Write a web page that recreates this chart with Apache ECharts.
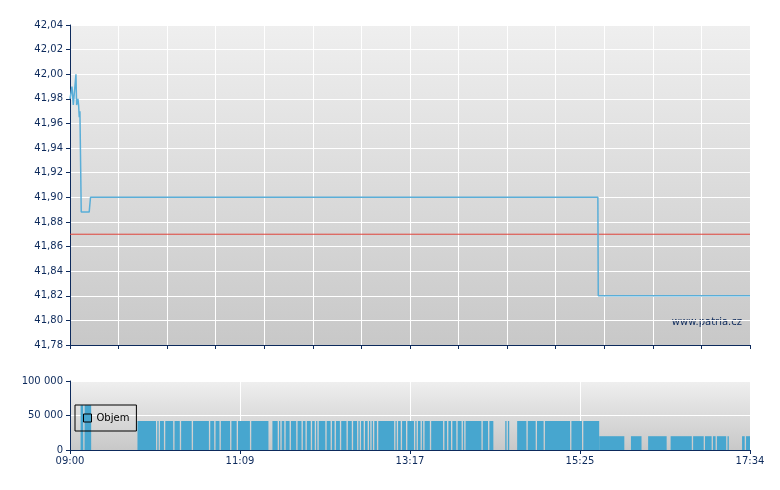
<!DOCTYPE html>
<html>
<head>
<meta charset="utf-8">
<script src="https://cdn.jsdelivr.net/npm/echarts@6/dist/echarts.min.js"></script>
<style>
  html, body { margin: 0; padding: 0; background: #fff; }
  #chart { width: 780px; height: 490px; }
</style>
</head>
<body>
<div id="chart"></div>
<script>
// minutes since 09:00 (session 09:00 - 17:34)
const sessionLength = 514;
const timeLabels = ['09:00', '11:09', '13:17', '15:25', '17:34'];

// price ticks: [minute, price]
const priceTimes = [0, 1.5, 2.5, 3.5, 4.5, 5, 5.5, 6, 6.5, 7, 7.5, 8.3, 8.5, 14.5, 15.5, 399, 399.3, 514];
const priceValues = [41.98, 41.99, 41.975, 41.975, 42.00, 41.975, 41.975, 41.98, 41.975, 41.965, 41.97, 41.97,
  41.888, 41.888, 41.90, 41.90, 41.82, 41.82];
const prevClose = 41.87;

// volume: trading blocks [firstMinute, lastMinute, volume] and minutes without trades inside them
const volBlocks = [
  [8, 15, 65000],
  [51, 319, 42000],
  [329, 329, 42000],
  [331, 331, 42000],
  [338, 399, 42000],
  [400, 418, 20000],
  [424, 431, 20000],
  [437, 450, 20000],
  [454, 495, 20000],
  [497, 497, 20000],
  [508, 513, 20000]
];
const volGaps = [10, 65, 67, 71, 78, 83, 92, 105, 109, 113, 121, 126, 136, 150, 151, 152, 157, 159, 162, 166,
  171, 175, 178, 182, 185, 187, 193, 197, 200, 204, 209, 213, 217, 219, 222, 225, 227, 229, 232, 245, 247,
  250, 254, 260, 262, 265, 267, 272, 282, 285, 288, 292, 296, 298, 311, 316, 345, 352, 358, 378, 387, 470,
  479, 485, 488, 510];

// per-minute volume, then merged into runs so neighbouring minutes draw as one bar
const volByMinute = new Array(sessionLength).fill(0);
volBlocks.forEach(([a, b, v]) => { for (let m = a; m <= b; m++) volByMinute[m] = v; });
volGaps.forEach(m => { volByMinute[m] = 0; });
const volRuns = [];
for (let m = 0; m < sessionLength; m++) {
  const v = volByMinute[m];
  if (!v) continue;
  const last = volRuns[volRuns.length - 1];
  if (last && last[1] === m && last[2] === v) last[1] = m + 1;
  else volRuns.push([m, m + 1, v]);
}

const priceData = priceTimes.map((t, i) => [t, priceValues[i]]);

const navy = '#0d2a5c';
const font = 'DejaVu Sans';
const bg = () => new echarts.graphic.LinearGradient(0, 0, 0, 1, [
  { offset: 0, color: '#efefef' },
  { offset: 1, color: '#c8c8c8' }
]);

const chart = echarts.init(document.getElementById('chart'));
chart.setOption({
  animation: false,
  backgroundColor: '#fff',
  textStyle: { fontFamily: font },
  grid: [
    { left: 70, top: 25, width: 680, height: 320, show: true, borderWidth: 0, backgroundColor: bg() },
    { left: 70, top: 381, width: 680, height: 69, show: true, borderWidth: 0, backgroundColor: bg() }
  ],
  legend: {
    data: ['Objem'],
    left: 75, top: 405,
    padding: [8, 7, 8, 8],
    borderColor: '#000', borderWidth: 1,
    icon: 'rect', itemWidth: 8, itemHeight: 8, itemGap: 5,
    itemStyle: { color: '#47a6cf', borderColor: '#000', borderWidth: 1 },
    textStyle: { fontFamily: font, fontSize: 10, color: '#000' },
    selectedMode: false
  },
  xAxis: [
    {
      gridIndex: 0, type: 'value', min: 0, max: sessionLength, interval: sessionLength / 14,
      axisLine: { lineStyle: { color: navy, width: 1 } },
      axisTick: { show: true, length: 4, lineStyle: { color: navy } },
      axisLabel: { show: false },
      splitLine: { show: true, lineStyle: { color: '#fff', width: 1 } }
    },
    {
      gridIndex: 1, type: 'value', min: 0, max: sessionLength, interval: sessionLength / 4,
      axisLine: { lineStyle: { color: navy, width: 1 } },
      axisTick: { show: true, length: 4, lineStyle: { color: navy } },
      axisLabel: {
        color: navy, fontSize: 10, fontFamily: font, margin: 6,
        formatter: v => timeLabels[Math.round(v / (sessionLength / 4))]
      },
      splitLine: { show: true, lineStyle: { color: '#fff', width: 1 } }
    }
  ],
  yAxis: [
    {
      gridIndex: 0, type: 'value', min: 41.78, max: 42.04, interval: 0.02,
      axisLine: { show: true, lineStyle: { color: navy, width: 1 } },
      axisTick: { show: true, length: 4, lineStyle: { color: navy } },
      axisLabel: { color: navy, fontSize: 10, fontFamily: font, margin: 7,
        formatter: v => v.toFixed(2).replace('.', ',') },
      splitLine: { show: true, lineStyle: { color: '#fff', width: 1 } }
    },
    {
      gridIndex: 1, type: 'value', min: 0, max: 100000, interval: 50000,
      axisLine: { show: true, lineStyle: { color: navy, width: 1 } },
      axisTick: { show: true, length: 4, lineStyle: { color: navy } },
      axisLabel: { color: navy, fontSize: 10, fontFamily: font, margin: 7,
        formatter: v => String(v).replace(/\B(?=(\d{3})+(?!\d))/g, ' ') },
      splitLine: { show: true, lineStyle: { color: '#fff', width: 1 } }
    }
  ],
  series: [
    {
      name: 'Předchozí', type: 'line', xAxisIndex: 0, yAxisIndex: 0,
      data: [[0, prevClose], [sessionLength, prevClose]],
      showSymbol: false, silent: true,
      lineStyle: { color: '#e0433a', width: 1 }
    },
    {
      name: 'Cena', type: 'line', xAxisIndex: 0, yAxisIndex: 0,
      data: priceData, showSymbol: false,
      lineStyle: { color: '#5aaed8', width: 1.5 }
    },
    {
      name: 'Objem', type: 'custom', xAxisIndex: 1, yAxisIndex: 1,
      data: volRuns,
      encode: { x: [0, 1], y: 2 },
      itemStyle: { color: '#47a6cf' },
      renderItem: (params, api) => {
        const top = api.coord([api.value(0), api.value(2)]);
        const bottom = api.coord([api.value(1), 0]);
        return {
          type: 'rect',
          shape: { x: top[0], y: top[1], width: bottom[0] - top[0], height: bottom[1] - top[1] },
          style: { fill: '#47a6cf' }
        };
      }
    }
  ],
  graphic: [
    {
      type: 'text', right: 38, top: 317,
      style: { text: 'www.patria.cz', fill: navy, font: '10px "DejaVu Sans"' }
    }
  ]
});
</script>
</body>
</html>
